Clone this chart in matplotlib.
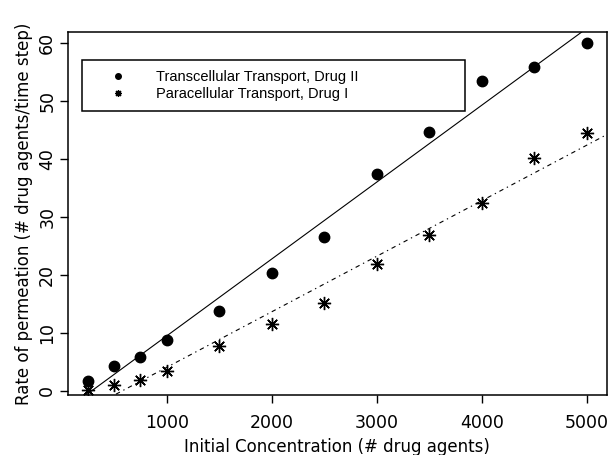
import numpy as np
import matplotlib
matplotlib.use("Agg")
import matplotlib.pyplot as plt
from matplotlib import font_manager

# Data
conc = [250, 500, 750, 1000, 1500, 2000, 2500, 3000, 3500, 4000, 4500, 5000]
trans_rate = [1.7, 4.3, 5.9, 8.7, 13.8, 20.4, 26.5, 37.3, 44.6, 53.4, 55.8, 60.0]
para_rate = [0.2, 1.0, 1.9, 3.4, 7.7, 11.6, 15.2, 21.9, 26.8, 32.3, 40.2, 44.5]
xticks = [1000, 2000, 3000, 4000, 5000]
yticks = [0, 10, 20, 30, 40, 50, 60]
labels = ["Transcellular Transport, Drug II", "Paracellular Transport, Drug I"]

plt.rcParams['font.family'] = ['DejaVu Sans']


def has_font(name):
    try:
        font_manager.findfont(font_manager.FontProperties(family=name),
                              fallback_to_default=False)
        return True
    except Exception:
        return False


if has_font('Liberation Sans Narrow'):
    leg_family, leg_size = ['Liberation Sans Narrow', 'DejaVu Sans'], 12
else:
    leg_family, leg_size = ['Liberation Sans', 'DejaVu Sans'], 10.5

fig = plt.figure(figsize=(6.11, 4.55), dpi=100)
ax = fig.add_axes([68 / 611, 60 / 455, (606.7 - 68) / 611, (395 - 31.7) / 455])

x = np.array(conc, dtype=float)
star = (8, 2, 0)

ax.plot(x, trans_rate, linestyle='none', marker='o', color='black', markersize=7.5)
ax.plot(x, para_rate, linestyle='none', marker=star, color='black', markersize=9.5,
        markeredgewidth=1.0)

xmin, xmax = 60, 5190
ymin, ymax = -0.7, 61.9
xl = np.array([xmin - 500, xmax + 500])
b1 = np.polyfit(x, trans_rate, 1)
b2 = np.polyfit(x, para_rate, 1)
ax.plot(xl, np.polyval(b1, xl), color='black', lw=0.8)
ax.plot(xl, np.polyval(b2, xl), color='black', lw=0.8, dashes=(1.2, 3.5, 4, 3.5))

ax.set_xlim(xmin, xmax)
ax.set_ylim(ymin, ymax)
ax.set_xticks(xticks)
ax.set_yticks(yticks)
ax.tick_params(direction='out', length=5.5, width=1, labelsize=12.5)
ax.tick_params(axis='x', pad=8.5)
ax.tick_params(axis='y', pad=3)
for lab in ax.get_yticklabels():
    lab.set_rotation(90)
    lab.set_va('center')
for s in ax.spines.values():
    s.set_linewidth(1.1)

ax.set_xlabel("Initial Concentration (# drug agents)", fontsize=12, labelpad=4)
ax.set_ylabel("Rate of permeation (# drug agents/time step)", fontsize=12, labelpad=4)

h1 = plt.Line2D([], [], linestyle='none', marker='o', color='black', markersize=4)
h2 = plt.Line2D([], [], linestyle='none', marker=star, color='black', markersize=5,
                markeredgewidth=0.9)
leg = ax.legend([h1, h2], labels, loc='upper left',
                bbox_to_anchor=(0.026, 0.784, 0.711, 0.138), mode='expand',
                borderaxespad=0, fancybox=False, edgecolor='black', framealpha=1,
                prop={'family': leg_family, 'size': leg_size},
                handlelength=3.5, handletextpad=0.9, borderpad=0.7, labelspacing=0.2)
leg.get_frame().set_linewidth(1.1)

fig.savefig("out.png", dpi=100)
